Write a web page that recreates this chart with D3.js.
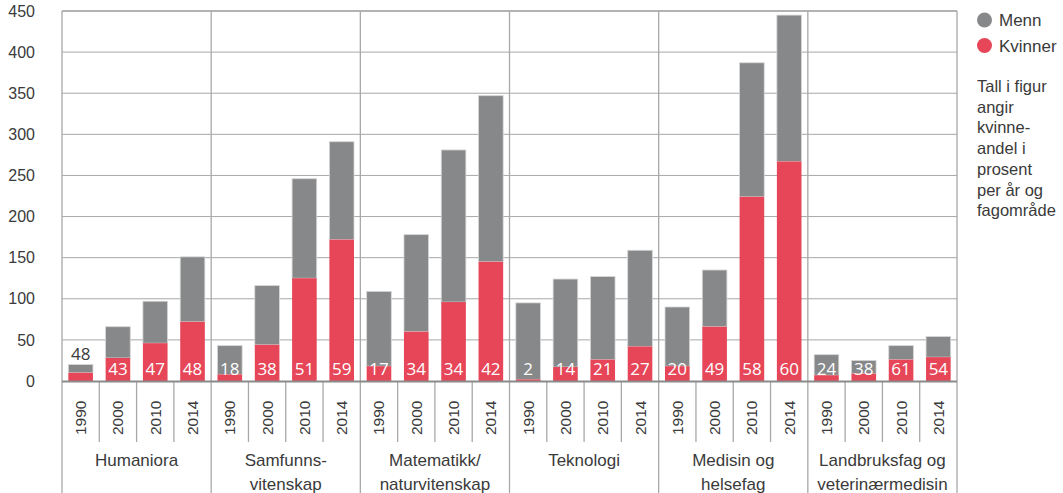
<!DOCTYPE html>
<html><head><meta charset="utf-8">
<script src="https://cdn.jsdelivr.net/npm/d3@7"></script>
<style>html,body{margin:0;padding:0;background:#fff;}svg{display:block;}</style>
</head><body>
<svg id="c" width="1063" height="493"></svg>
<script>
const groups = ["Humaniora","Samfunns-\nvitenskap","Matematikk/\nnaturvitenskap","Teknologi","Medisin og\nhelsefag","Landbruksfag og\nveterinærmedisin"];
const years = ["1990","2000","2010","2014"];
const women = [
  [10, 28, 46, 72],
  [8, 44, 125, 172],
  [18, 60, 96, 145],
  [2, 17, 26, 42],
  [18, 66, 224, 267],
  [7, 9, 26, 29]
];
const men = [
  [10, 38, 51, 79],
  [35, 72, 121, 119],
  [91, 118, 185, 202],
  [93, 107, 101, 117],
  [72, 69, 163, 178],
  [25, 16, 17, 25]
];
const shareLabels = [
  ["48","43","47","48"],
  ["18","38","51","59"],
  ["17","34","34","42"],
  ["2","14","21","27"],
  ["20","49","58","60"],
  ["24","38","61","54"]
];
const yTicks = [0,50,100,150,200,250,300,350,400,450];
const seriesNames = ["Menn","Kvinner"];
const noteLines = ["Tall i figur","angir","kvinne-","andel i","prosent","per år og","fagområde"];

const GREY = "#87888a", RED = "#e64658", GRID = "#a8a8a8", TXT = "#3a3a3a";
const svg = d3.select("#c");
const L = 62, R = 957, T = 11, B = 381;
const y = d3.scaleLinear().domain([0,450]).range([B,T]);
const x0 = d3.scaleBand().domain(d3.range(groups.length)).range([L,R]).padding(0);
const x1 = d3.scaleBand().domain(years).range([0,x0.bandwidth()]).paddingInner(0.34).paddingOuter(0.17);
const slot = x1.step();

// horizontal grid
svg.append("g").selectAll("line").data(yTicks.filter(d=>d>0)).join("line")
  .attr("x1",L).attr("x2",R).attr("y1",d=>y(d)).attr("y2",d=>y(d))
  .attr("stroke",GRID).attr("stroke-width",1);
// y labels
const ya = svg.append("g").attr("transform",`translate(${L},0)`)
  .call(d3.axisLeft(y).tickValues(yTicks).tickSize(0).tickPadding(27));
ya.select(".domain").remove();
ya.selectAll("text").attr("font-family","'Liberation Sans',Arial,sans-serif").attr("font-size",16).attr("fill",TXT);

// vertical boundaries (groups) full height
const bounds = d3.range(groups.length+1).map(i => i<groups.length ? x0(i) : R);
svg.append("g").selectAll("line").data(bounds).join("line")
  .attr("x1",d=>d).attr("x2",d=>d).attr("y1",T).attr("y2",493)
  .attr("stroke",GRID).attr("stroke-width",1.3);
// minor ticks between years
const minor = [];
groups.forEach((g,i)=>{ for(let k=1;k<years.length;k++) minor.push(x0(i)+k*slot); });
svg.append("g").selectAll("line").data(minor).join("line")
  .attr("x1",d=>d).attr("x2",d=>d).attr("y1",B).attr("y2",442)
  .attr("stroke",GRID).attr("stroke-width",1.3);

// bars
const flat = [];
groups.forEach((g,i)=>years.forEach((yr,j)=>flat.push({i,j,yr,w:women[i][j],m:men[i][j],lab:shareLabels[i][j]})));
const bars = svg.append("g");
bars.selectAll("rect.m").data(flat).join("rect").attr("class","m")
  .attr("x",d=>x0(d.i)+x1(d.yr)).attr("width",x1.bandwidth())
  .attr("y",d=>y(d.w+d.m)).attr("height",d=>y(d.w)-y(d.w+d.m))
  .attr("fill",GREY).attr("stroke","#d6d6d6").attr("stroke-width",0.8);
bars.selectAll("rect.w").data(flat).join("rect").attr("class","w")
  .attr("x",d=>x0(d.i)+x1(d.yr)).attr("width",x1.bandwidth())
  .attr("y",d=>y(d.w)).attr("height",d=>y(0)-y(d.w))
  .attr("fill",RED);

// top border line
svg.append("line").attr("x1",L).attr("x2",R).attr("y1",T).attr("y2",T).attr("stroke",GRID).attr("stroke-width",1.3);
// axis line
svg.append("line").attr("x1",L).attr("x2",R).attr("y1",B+0.5).attr("y2",B+0.5).attr("stroke","#8a8a8a").attr("stroke-width",2);

// value labels
svg.append("g").selectAll("text").data(flat).join("text")
  .attr("x",d=>x0(d.i)+x1(d.yr)+x1.bandwidth()/2)
  .attr("y",d=>(d.w+d.m) < 25 ? y(d.w+d.m)-5 : 375)
  .attr("text-anchor","middle")
  .attr("font-family","'Open Sans','Noto Sans',sans-serif").attr("font-size",17)
  .attr("fill",d=>(d.w+d.m) < 25 ? TXT : "#fff")
  .text(d=>d.lab);

// year labels
svg.append("g").selectAll("text").data(flat).join("text")
  .attr("transform",d=>`translate(${x0(d.i)+x1(d.yr)+x1.bandwidth()/2+5.5},435) rotate(-90)`)
  .attr("font-family","'Liberation Sans',Arial,sans-serif").attr("font-size",15.5).attr("fill",TXT)
  .text(d=>d.yr);

// group labels
const gl = svg.append("g").selectAll("text").data(groups).join("text")
  .attr("text-anchor","middle")
  .attr("font-family","'Liberation Sans',Arial,sans-serif").attr("font-size",17).attr("fill",TXT);
gl.each(function(d,i){
  const t = d3.select(this);
  d.split("\n").forEach((ln,k)=>{
    t.append("tspan").attr("x",x0(i)+x0.bandwidth()/2).attr("y",466+k*24).text(ln);
  });
});

// legend
const lg = svg.append("g");
[GREY,RED].forEach((c,k)=>{
  lg.append("circle").attr("cx",984.5).attr("cy",20+k*25.5).attr("r",7.5).attr("fill",c);
  lg.append("text").attr("x",999).attr("y",26+k*25.5)
    .attr("font-family","'Liberation Sans',Arial,sans-serif").attr("font-size",17).attr("fill",TXT)
    .text(seriesNames[k]);
});
const note = svg.append("text").attr("font-family","'Liberation Sans',Arial,sans-serif").attr("font-size",16.5).attr("fill",TXT);
noteLines.forEach((ln,k)=>note.append("tspan").attr("x",977).attr("y",92+k*20.7).text(ln));
</script>
</body></html>
